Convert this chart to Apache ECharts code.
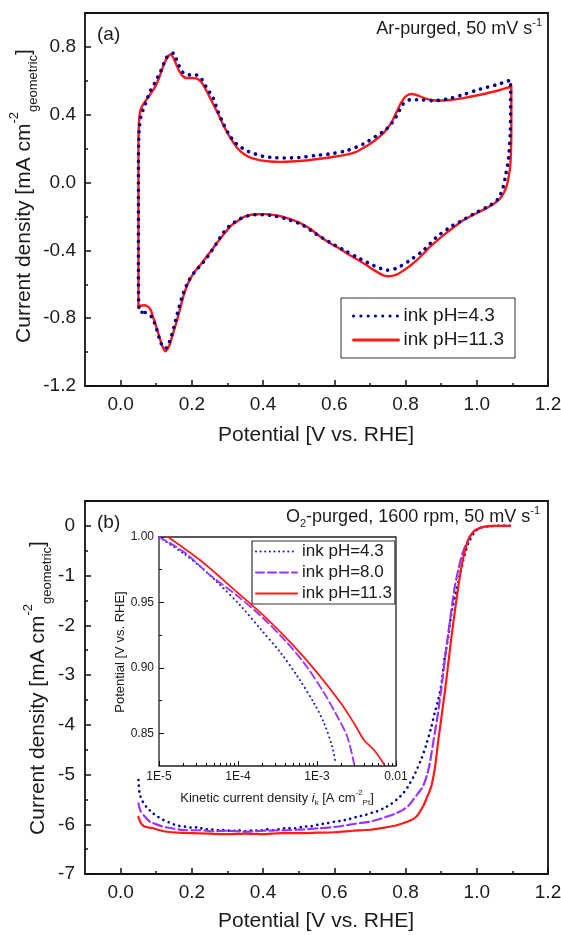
<!DOCTYPE html>
<html><head><meta charset="utf-8">
<script src="https://cdn.jsdelivr.net/npm/echarts@6/dist/echarts.min.js"></script>
<style>html,body{margin:0;padding:0;background:#fff}#c{width:561px;height:935px}</style>
</head><body><div id="c"></div>
<script>
// ---------- DATA ----------
// (a) Cyclic voltammograms, Ar-purged  [potential V, current mA cm-2]
const cvPH113 = [[0.050,-0.733],[0.050,-0.40],[0.050,0.0],[0.050,0.25],[0.051,0.33],[0.053,0.395],[0.058,0.44],[0.067,0.472],[0.082,0.518],[0.096,0.561],[0.110,0.629],[0.124,0.710],[0.134,0.745],[0.141,0.757],[0.148,0.735],[0.156,0.698],[0.165,0.655],[0.175,0.627],[0.185,0.617],[0.200,0.617],[0.213,0.614],[0.227,0.592],[0.240,0.545],[0.250,0.505],[0.262,0.455],[0.274,0.404],[0.288,0.340],[0.302,0.286],[0.316,0.238],[0.330,0.198],[0.348,0.165],[0.367,0.145],[0.390,0.132],[0.420,0.124],[0.450,0.122],[0.480,0.124],[0.520,0.130],[0.560,0.140],[0.600,0.152],[0.634,0.165],[0.660,0.180],[0.681,0.204],[0.700,0.228],[0.719,0.257],[0.737,0.290],[0.751,0.325],[0.762,0.360],[0.770,0.394],[0.778,0.430],[0.786,0.465],[0.798,0.503],[0.808,0.518],[0.817,0.522],[0.827,0.519],[0.836,0.512],[0.859,0.494],[0.887,0.484],[0.925,0.487],[0.955,0.495],[0.981,0.506],[1.010,0.518],[1.037,0.531],[1.065,0.546],[1.091,0.562],[1.097,0.565],[1.097,0.45],[1.097,0.30],[1.096,0.18],[1.094,0.10],[1.090,0.04],[1.084,-0.02],[1.076,-0.06],[1.065,-0.095],[1.048,-0.125],[1.030,-0.148],[1.005,-0.175],[0.981,-0.200],[0.962,-0.222],[0.944,-0.250],[0.925,-0.280],[0.906,-0.312],[0.887,-0.345],[0.868,-0.380],[0.850,-0.420],[0.831,-0.459],[0.812,-0.492],[0.793,-0.520],[0.778,-0.540],[0.765,-0.549],[0.751,-0.553],[0.738,-0.547],[0.728,-0.537],[0.710,-0.515],[0.691,-0.488],[0.668,-0.458],[0.644,-0.429],[0.615,-0.390],[0.587,-0.356],[0.560,-0.318],[0.530,-0.270],[0.500,-0.235],[0.466,-0.208],[0.435,-0.193],[0.405,-0.186],[0.380,-0.187],[0.367,-0.190],[0.350,-0.200],[0.339,-0.212],[0.325,-0.232],[0.311,-0.253],[0.297,-0.286],[0.283,-0.322],[0.269,-0.360],[0.255,-0.400],[0.243,-0.433],[0.231,-0.467],[0.219,-0.498],[0.208,-0.527],[0.196,-0.565],[0.185,-0.616],[0.175,-0.680],[0.166,-0.753],[0.158,-0.815],[0.150,-0.871],[0.143,-0.920],[0.138,-0.955],[0.132,-0.980],[0.126,-0.995],[0.120,-0.980],[0.114,-0.945],[0.108,-0.905],[0.103,-0.871],[0.097,-0.830],[0.091,-0.792],[0.086,-0.760],[0.082,-0.743],[0.075,-0.730],[0.067,-0.724],[0.060,-0.725],[0.053,-0.728],[0.050,-0.733]];
const cvPH43 = [[0.060,-0.765],[0.052,-0.760],[0.050,-0.50],[0.050,-0.10],[0.050,0.10],[0.051,0.25],[0.053,0.33],[0.058,0.40],[0.066,0.443],[0.074,0.49],[0.082,0.535],[0.096,0.588],[0.113,0.659],[0.129,0.737],[0.140,0.755],[0.148,0.763],[0.155,0.735],[0.162,0.698],[0.170,0.665],[0.178,0.643],[0.194,0.635],[0.211,0.635],[0.225,0.618],[0.241,0.561],[0.260,0.498],[0.272,0.427],[0.288,0.349],[0.304,0.286],[0.321,0.237],[0.338,0.208],[0.358,0.184],[0.377,0.169],[0.400,0.155],[0.430,0.147],[0.460,0.145],[0.500,0.148],[0.550,0.160],[0.587,0.169],[0.634,0.188],[0.681,0.227],[0.719,0.276],[0.740,0.305],[0.756,0.335],[0.766,0.365],[0.775,0.394],[0.784,0.430],[0.793,0.463],[0.803,0.480],[0.812,0.488],[0.840,0.488],[0.878,0.483],[0.915,0.492],[0.962,0.518],[1.009,0.551],[1.056,0.577],[1.089,0.600],[1.095,0.605],[1.095,0.45],[1.094,0.30],[1.090,0.16],[1.087,0.11],[1.081,0.04],[1.074,-0.027],[1.060,-0.096],[1.037,-0.135],[1.000,-0.175],[0.962,-0.220],[0.925,-0.263],[0.887,-0.322],[0.850,-0.400],[0.812,-0.459],[0.775,-0.505],[0.747,-0.517],[0.728,-0.505],[0.709,-0.488],[0.672,-0.449],[0.625,-0.396],[0.587,-0.352],[0.550,-0.305],[0.510,-0.250],[0.466,-0.215],[0.430,-0.197],[0.400,-0.190],[0.380,-0.190],[0.358,-0.196],[0.335,-0.214],[0.319,-0.235],[0.302,-0.263],[0.285,-0.306],[0.269,-0.360],[0.253,-0.410],[0.238,-0.455],[0.222,-0.494],[0.208,-0.527],[0.191,-0.580],[0.175,-0.659],[0.159,-0.776],[0.150,-0.850],[0.142,-0.910],[0.135,-0.950],[0.128,-0.975],[0.121,-0.975],[0.115,-0.955],[0.110,-0.929],[0.102,-0.870],[0.094,-0.822],[0.086,-0.790],[0.077,-0.773],[0.068,-0.766],[0.060,-0.765]];

// (b) ORR polarization curves, O2-purged
const orrPH43 = [[0.050,-5.11],[0.053,-5.38],[0.060,-5.52],[0.072,-5.65],[0.082,-5.72],[0.091,-5.78],[0.105,-5.85],[0.119,-5.91],[0.135,-5.96],[0.156,-6.02],[0.170,-6.04],[0.185,-6.05],[0.200,-6.07],[0.215,-6.06],[0.231,-6.09],[0.250,-6.11],[0.265,-6.10],[0.278,-6.13],[0.295,-6.11],[0.310,-6.14],[0.330,-6.12],[0.350,-6.14],[0.372,-6.12],[0.390,-6.13],[0.410,-6.10],[0.430,-6.12],[0.450,-6.09],[0.465,-6.08],[0.490,-6.08],[0.512,-6.05],[0.535,-6.04],[0.559,-6.00],[0.580,-5.98],[0.600,-5.95],[0.620,-5.93],[0.640,-5.90],[0.653,-5.87],[0.670,-5.84],[0.685,-5.82],[0.699,-5.78],[0.720,-5.74],[0.735,-5.69],[0.746,-5.65],[0.760,-5.59],[0.774,-5.51],[0.785,-5.44],[0.793,-5.38],[0.803,-5.29],[0.812,-5.18],[0.822,-5.05],[0.831,-4.91],[0.845,-4.68],[0.859,-4.38],[0.873,-4.03],[0.882,-3.75],[0.892,-3.50],[0.901,-3.17],[0.910,-2.65],[0.920,-2.23],[0.929,-1.75],[0.943,-1.29],[0.952,-1.02],[0.962,-0.69],[0.976,-0.35],[0.994,-0.12],[1.010,-0.04],[1.030,-0.01],[1.060,0.0],[1.093,0.0]];
const orrPH80 = [[0.050,-5.58],[0.055,-5.72],[0.065,-5.82],[0.082,-5.95],[0.100,-6.00],[0.119,-6.05],[0.150,-6.09],[0.185,-6.12],[0.220,-6.12],[0.260,-6.14],[0.300,-6.13],[0.350,-6.15],[0.400,-6.13],[0.465,-6.12],[0.520,-6.10],[0.560,-6.08],[0.606,-6.05],[0.650,-6.00],[0.699,-5.95],[0.725,-5.90],[0.746,-5.85],[0.770,-5.79],[0.793,-5.71],[0.808,-5.63],[0.821,-5.51],[0.835,-5.38],[0.849,-5.24],[0.860,-5.02],[0.868,-4.78],[0.882,-4.17],[0.891,-3.77],[0.901,-3.24],[0.910,-2.70],[0.920,-2.16],[0.929,-1.69],[0.938,-1.23],[0.948,-0.89],[0.957,-0.62],[0.971,-0.35],[0.990,-0.12],[1.010,-0.04],[1.030,-0.01],[1.060,0.0],[1.093,0.0]];
const orrPH113 = [[0.050,-5.85],[0.055,-5.95],[0.062,-6.02],[0.075,-6.06],[0.091,-6.08],[0.110,-6.12],[0.130,-6.15],[0.160,-6.17],[0.200,-6.18],[0.250,-6.19],[0.300,-6.20],[0.350,-6.19],[0.400,-6.20],[0.450,-6.18],[0.500,-6.18],[0.550,-6.17],[0.600,-6.16],[0.653,-6.13],[0.700,-6.11],[0.746,-6.06],[0.770,-6.03],[0.793,-5.98],[0.815,-5.92],[0.830,-5.85],[0.840,-5.75],[0.850,-5.63],[0.859,-5.48],[0.866,-5.36],[0.873,-5.22],[0.883,-4.84],[0.892,-4.31],[0.901,-3.84],[0.911,-3.30],[0.920,-2.77],[0.929,-2.23],[0.939,-1.69],[0.948,-1.23],[0.957,-0.82],[0.967,-0.49],[0.980,-0.22],[0.994,-0.09],[1.018,-0.02],[1.050,0.0],[1.093,0.0]];

// inset: Tafel plots [kinetic current density A cm-2 Pt, potential V]
const tafelPH43 = [[1.0e-5,1.0],[2.07e-5,0.9872],[3.4e-5,0.977],[5.47e-5,0.9654],[1.08e-4,0.9474],[1.94e-4,0.9295],[3.47e-4,0.9115],[5.64e-4,0.8936],[9.16e-4,0.8731],[1.23e-3,0.8577],[1.56e-3,0.8397],[1.72e-3,0.8269]];
const tafelPH80 = [[1.0e-5,1.0],[2.07e-5,0.9885],[4.5e-5,0.9705],[9.8e-5,0.9551],[1.94e-4,0.9397],[3.82e-4,0.9218],[6.84e-4,0.9038],[1.23e-3,0.8808],[1.81e-3,0.8628],[2.42e-3,0.8474],[2.94e-3,0.8269]];
const tafelPH113 = [[1.3e-5,1.0],[3.36e-5,0.982],[9.8e-5,0.9577],[2.13e-4,0.9397],[4.64e-4,0.9192],[1.01e-3,0.8962],[2.0e-3,0.8731],[2.94e-3,0.8577],[3.93e-3,0.8449],[5.27e-3,0.8372],[7.05e-3,0.8264]];

// ticks
const potMajor = [0, 0.2, 0.4, 0.6, 0.8, 1.0, 1.2];
const potMinor = [0.1, 0.3, 0.5, 0.7, 0.9, 1.1];
const cvMajor = [-1.2, -0.8, -0.4, 0, 0.4, 0.8];
const cvMinor = [-1.0, -0.6, -0.2, 0.2, 0.6];
const orrMajor = [-7, -6, -5, -4, -3, -2, -1, 0];
const orrMinor = [-6.5, -5.5, -4.5, -3.5, -2.5, -1.5, -0.5];
const insetYMajor = [0.85, 0.90, 0.95, 1.00];
const insetYMinor = [0.875, 0.925, 0.975];
const insetXMajor = [1e-5, 1e-4, 1e-3, 1e-2];
const insetXMinor = [2e-5,3e-5,4e-5,5e-5,6e-5,7e-5,8e-5,9e-5,2e-4,3e-4,4e-4,5e-4,6e-4,7e-4,8e-4,9e-4,2e-3,3e-3,4e-3,5e-3,6e-3,7e-3,8e-3,9e-3];
const legendA = ['ink pH=4.3', 'ink pH=11.3'];
const legendB = ['ink pH=4.3', 'ink pH=8.0', 'ink pH=11.3'];

// ---------- STYLE / BUILD ----------
const FONT = '"Liberation Sans", Arial, Helvetica, sans-serif';
const TXT = '#1a1a1a';
const RED = '#ff1a1a', NAVY = '#000090', PURPLE = '#9933ff';

function axisPair(dim, gridIndex, base, majorVals, minorVals, fmt, fs, margin, majLen, minLen, w) {
  const common = Object.assign({gridIndex: gridIndex, splitLine: {show: false}, axisLine: {show: false, onZero: false},
    position: dim === 'x' ? 'bottom' : 'left'}, base);
  const major = Object.assign({}, common, {
    axisTick: {show: true, inside: true, length: majLen, customValues: majorVals, lineStyle: {color: '#111', width: w}},
    axisLabel: {show: true, customValues: majorVals, formatter: fmt, fontSize: fs, fontFamily: FONT, color: TXT, margin: margin}
  });
  const minor = Object.assign({}, common, {
    axisTick: {show: true, inside: true, length: minLen, customValues: minorVals, lineStyle: {color: '#111', width: w}},
    axisLabel: {show: false}
  });
  return [major, minor];
}
const f1 = v => (Math.round(v * 10) / 10).toFixed(1);
const f0 = v => String(Math.round(v));
const f2 = v => (Math.round(v * 100) / 100).toFixed(2);
const fLog = v => { const e = Math.round(Math.log10(v)); return e === -2 ? '0.01' : '1E' + e; };

const xAxes = [].concat(
  axisPair('x', 0, {type: 'value', min: -0.1, max: 1.2}, potMajor, potMinor, f1, 19, 9, 6, 3, 1.5),
  axisPair('x', 1, {type: 'value', min: -0.1, max: 1.2}, potMajor, potMinor, f1, 19, 9, 6, 3, 1.5),
  axisPair('x', 2, {type: 'log', logBase: 10, min: 1e-5, max: 1e-2}, insetXMajor, insetXMinor, fLog, 12, 5, 5, 3, 1)
);
const yAxes = [].concat(
  axisPair('y', 0, {type: 'value', min: -1.2, max: 1.0}, cvMajor, cvMinor, f1, 19, 9, 6, 3, 1.5),
  axisPair('y', 1, {type: 'value', min: -7, max: 0.5}, orrMajor, orrMinor, f0, 19, 10, 6, 3, 1.5),
  axisPair('y', 2, {type: 'value', min: 0.825, max: 1.0}, insetYMajor, insetYMinor, f2, 12, 5, 5, 3, 1)
);

function ln(name, data, ax, color, width, dash, z, smooth) {
  return {type: 'line', name: name, data: data, xAxisIndex: ax, yAxisIndex: ax, showSymbol: false, symbol: 'none',
    smooth: smooth, z: z, silent: true, animation: false, emphasis: {disabled: true},
    itemStyle: {color: color}, lineStyle: {color: color, width: width, type: dash, cap: 'round', join: 'round'}};
}
const series = [
  ln(legendA[1], cvPH113, 0, RED, 2.4, 'solid', 3, 0.3),
  ln(legendA[0], cvPH43, 0, NAVY, 3.6, [0.1, 7.2], 4, 0.3),
  ln('main 4.3', orrPH43, 2, NAVY, 2.6, [0.1, 5.5], 3, 0.15),
  ln('main 8.0', orrPH80, 2, PURPLE, 2.2, [9, 4], 3, 0.15),
  ln('main 11.3', orrPH113, 2, RED, 2.2, 'solid', 3, 0.15),
  ln('b:' + legendB[0], tafelPH43, 4, '#1a1ad0', 2, [0.1, 4.5], 5, 0.3),
  ln('b:' + legendB[1], tafelPH80, 4, PURPLE, 1.8, [8, 4], 5, 0.3),
  ln('b:' + legendB[2], tafelPH113, 4, RED, 1.8, 'solid', 5, 0.3)
];

function t(x, y, text, fs, align, extra) {
  const style = Object.assign({text: text, x: 0, y: 0, font: fs + 'px ' + FONT, fontSize: fs, fontFamily: FONT,
    fill: TXT, align: align, textAlign: align, verticalAlign: 'middle', textVerticalAlign: 'middle'}, extra && extra.style);
  return Object.assign({type: 'text', x: x, y: y, z: 50, silent: true, style: style}, extra && extra.el);
}
function rich(fs, sub) {
  return {
    sup: {fontSize: sub, fontFamily: FONT, fill: TXT, color: TXT, lineHeight: sub, verticalAlign: 'top'},
    sub: {fontSize: sub, fontFamily: FONT, fill: TXT, color: TXT, lineHeight: sub, verticalAlign: 'bottom'},
    it: {fontSize: fs, fontFamily: FONT, fontStyle: 'italic', fill: TXT, color: TXT}
  };
}
const graphics = [
  t(97, 35, '(a)', 19, 'left'),
  t(542, 29, 'Ar-purged, 50 mV s{sup|-1}', 18, 'right', {style: {rich: rich(18, 11), lineHeight: 24}}),
  t(316, 435, 'Potential [V vs. RHE]', 21, 'center'),
  t(24, 196, 'Current density [mA cm{sup|-2}{sub|geometric}]', 21, 'center',
    {style: {rich: rich(21, 13), lineHeight: 32}, el: {rotation: Math.PI / 2}}),
  t(97, 523, '(b)', 19, 'left'),
  t(540, 517, 'O{sub|2}-purged, 1600 rpm, 50 mV s{sup|-1}', 18, 'right', {style: {rich: rich(18, 11), lineHeight: 24}}),
  t(316, 921, 'Potential [V vs. RHE]', 21, 'center'),
  t(38, 688, 'Current density [mA cm{sup|-2}{sub|geometric}]', 21, 'center',
    {style: {rich: rich(21, 13), lineHeight: 32}, el: {rotation: Math.PI / 2}}),
  t(277, 798, 'Kinetic current density {it|i}{sub|k} [A cm{sup|-2}{sub|Pt}]', 13, 'center',
    {style: {rich: rich(13, 8), lineHeight: 18}}),
  t(120, 652, 'Potential [V vs. RHE]', 13, 'center', {el: {rotation: Math.PI / 2}})
];

const hiddenSymbol = {opacity: 0, color: 'rgba(0,0,0,0)', borderColor: 'rgba(0,0,0,0)', borderWidth: 0};
const chart = echarts.init(document.getElementById('c'), null, {renderer: 'canvas'});
chart.setOption({
  animation: false,
  backgroundColor: '#fff',
  textStyle: {fontFamily: FONT},
  grid: [
    {left: 85, top: 13, width: 463, height: 373, show: true, borderColor: '#111', borderWidth: 1.8, outerBoundsMode: 'none', containLabel: false},
    {left: 85, top: 501, width: 463, height: 373, show: true, borderColor: '#111', borderWidth: 1.8, outerBoundsMode: 'none', containLabel: false},
    {left: 159, top: 537, width: 237, height: 229, show: true, borderColor: '#222', borderWidth: 1.3, backgroundColor: '#fff', outerBoundsMode: 'none', containLabel: false}
  ],
  xAxis: xAxes,
  yAxis: yAxes,
  legend: [
    {data: legendA, orient: 'vertical', left: 341, top: 298, itemWidth: 45, itemHeight: 20, itemGap: 4, itemTextGap: 5,
     padding: [8, 11], borderColor: '#333', borderWidth: 1, backgroundColor: '#fff', selectedMode: false,
     itemStyle: hiddenSymbol, lineStyle: {width: 3}, textStyle: {fontSize: 19, lineHeight: 20, color: TXT, fontFamily: FONT}},
    {data: legendB.map(n => 'b:' + n), orient: 'vertical', left: 252, top: 541, itemWidth: 41, itemHeight: 17, itemGap: 4, itemTextGap: 3,
     padding: [2, 3], borderColor: '#333', borderWidth: 1.2, backgroundColor: '#fff', selectedMode: false,
     formatter: n => n.replace('b:', ''), itemStyle: hiddenSymbol,
     lineStyle: {width: 2}, textStyle: {fontSize: 17, lineHeight: 17, color: TXT, fontFamily: FONT}}
  ],
  series: series,
  graphic: graphics
});
</script></body></html>
